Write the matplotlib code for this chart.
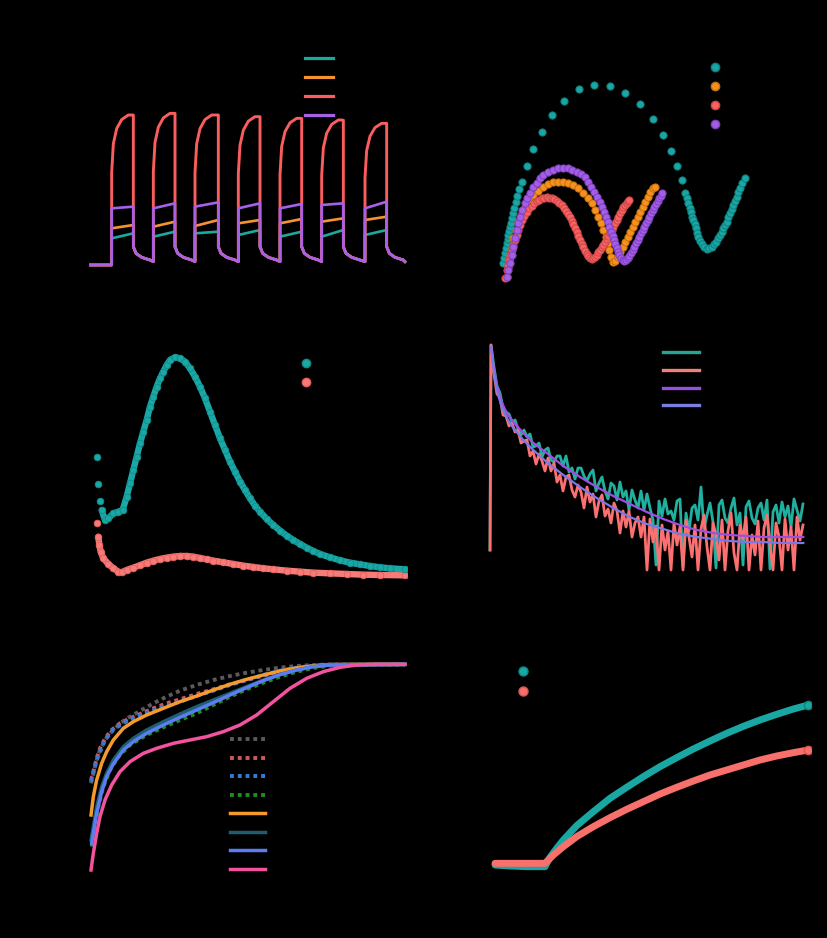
import matplotlib
matplotlib.use("Agg")
import matplotlib.pyplot as plt
from matplotlib.lines import Line2D

W, H = 827, 938

# ---------------- (a) chopped-light current pulses ----------------
PULSE_ON = [65, 190, 315, 445, 570, 695, 825]
PULSE_OFF = [130, 255, 385, 510, 635, 760, 890]
T_END = 945
PRE_J = 5
BASE_J = 15
TAIL_DT = [0, 8, 25, 50]
TAIL_J = [60, 40, 28, 20]
RISE_DT = [0, 5, 15, 30, 50]
RISE_FRAC = [0.62, 0.81, 0.91, 0.97, 1.0]

A_TEAL_START = [85, 90, 100, 95, 90, 90, 95]
A_TEAL_END = [100, 105, 105, 110, 105, 110, 110]
A_ORANGE_START = [115, 120, 122, 130, 130, 135, 140]
A_ORANGE_END = [125, 135, 140, 140, 143, 145, 150]
A_RED_PEAK = [455, 460, 455, 450, 445, 440, 430]
A_PURPLE_START = [175, 175, 180, 175, 175, 185, 175]
A_PURPLE_END = [180, 190, 193, 190, 188, 190, 195]
A_LABELS = ["S1", "S2", "S3", "S4"]

# ---------------- (b) Nyquist plots ----------------
B_TEAL_X = [40, 43, 45, 48, 50, 53, 55, 58, 60, 63, 65, 69, 73, 77, 82, 88, 95, 110, 130, 155,
            187, 223, 268, 312, 359, 406, 449, 489, 520, 543, 560, 575, 585, 590, 595, 599, 603, 607,
            610, 614, 617, 621, 625, 630, 636, 643, 650, 658, 665, 672, 678, 684, 690, 695, 700, 705,
            710, 715, 720, 725, 730, 735, 740, 745, 750, 757, 765]
B_TEAL_Y = [65, 80, 95, 110, 125, 137, 150, 163, 175, 187, 200, 215, 230, 248, 267, 288, 310, 358, 409, 460,
            510, 553, 587, 600, 598, 577, 544, 499, 449, 403, 358, 315, 277, 260, 245, 231, 218, 205,
            195, 182, 170, 157, 145, 133, 122, 113, 109, 110, 115, 122, 130, 140, 150, 160, 170, 180,
            190, 203, 215, 228, 240, 253, 265, 278, 290, 305, 320]
B_ORANGE_X = [50, 55, 60, 65, 70, 78, 85, 95, 105, 117, 130, 145, 160, 175, 190, 205, 220, 235, 250, 265,
              280, 293, 305, 315, 325, 333, 340, 348, 353, 358, 363, 368, 375, 383, 390, 398, 405, 413,
              420, 428, 435, 443, 450, 458, 465, 473, 480, 488, 495]
B_ORANGE_Y = [25, 55, 85, 115, 140, 165, 190, 215, 235, 255, 270, 283, 295, 303, 308, 310, 310, 307, 300, 290,
              277, 262, 245, 225, 205, 185, 165, 145, 125, 105, 85, 70, 72, 85, 100, 115, 130, 145,
              160, 175, 190, 205, 220, 235, 250, 265, 278, 290, 295]
B_RED_X = [45, 50, 53, 57, 61, 65, 70, 75, 80, 85, 91, 97, 103, 110, 117, 125, 132, 140, 147, 155,
           162, 170, 177, 185, 192, 200, 207, 215, 221, 228, 234, 240, 245, 250, 255, 260, 265, 270,
           275, 280, 285, 290, 295, 300, 305, 310, 315, 320, 325, 330, 335, 340, 345, 350, 355, 360,
           365, 370, 375, 380, 385, 390, 395, 400, 405, 410, 414, 418]
B_RED_Y = [20, 45, 60, 75, 90, 105, 120, 135, 150, 165, 180, 195, 208, 220, 230, 238, 245, 252, 256, 260,
           262, 263, 262, 260, 257, 253, 247, 240, 232, 223, 213, 203, 193, 183, 172, 160, 148, 135,
           124, 113, 103, 93, 86, 80, 78, 80, 85, 90, 98, 105, 113, 120, 128, 137, 146, 155,
           165, 175, 185, 195, 205, 215, 224, 233, 240, 247, 251, 255]
B_PURPLE_X = [50, 55, 60, 65, 70, 75, 80, 85, 90, 97, 105, 112, 120, 130, 140, 150, 160, 175, 190, 205,
              220, 234, 247, 260, 272, 284, 295, 304, 313, 322, 330, 337, 343, 348, 353, 358, 363, 368,
              372, 376, 380, 384, 388, 393, 398, 403, 408, 413, 418, 423, 428, 433, 438, 443, 448, 453,
              458, 463, 468, 473, 478, 483, 488, 493, 498, 503, 508, 512, 517]
B_PURPLE_Y = [25, 45, 65, 90, 115, 140, 165, 185, 205, 225, 245, 262, 277, 293, 307, 320, 330, 339, 345, 350,
              352, 350, 345, 340, 333, 323, 310, 295, 280, 265, 250, 235, 220, 205, 190, 175, 160, 147,
              135, 122, 110, 100, 90, 82, 75, 73, 75, 80, 87, 95, 105, 115, 125, 135, 145, 155,
              165, 175, 185, 195, 205, 215, 225, 234, 243, 252, 260, 267, 275]

# ---------------- (c) transient signal ----------------
C_TEAL_X = [28, 31, 36, 41, 51, 61, 76, 91, 104, 116, 126, 136, 146, 156, 166, 176, 186, 196, 206, 216,
            226, 236, 246, 261, 276, 291, 306, 321, 336, 351, 366, 381, 396, 411, 426, 441, 456, 471,
            486, 501, 516, 536, 556, 576, 596, 616, 636, 656, 676, 696, 726, 756, 786, 816, 846, 876,
            906, 951]
C_TEAL_Y = [368, 287, 238, 210, 180, 185, 200, 205, 210, 250, 290, 330, 370, 410, 445, 480, 520, 550, 580, 605,
            625, 645, 660, 668, 665, 655, 635, 610, 580, 545, 505, 465, 425, 390, 355, 325, 295, 270,
            245, 223, 205, 183, 165, 148, 133, 120, 108, 97, 87, 78, 68, 59, 52, 47, 42, 38,
            35, 32]
C_RED_X = [26, 31, 34, 38, 46, 61, 76, 91, 101, 116, 136, 156, 176, 196, 216, 236, 256, 276, 296, 316,
           336, 356, 376, 406, 436, 466, 496, 526, 556, 596, 636, 676, 726, 776, 826, 876, 951]
C_RED_Y = [172, 130, 105, 85, 65, 48, 35, 25, 23, 30, 37, 44, 52, 58, 63, 67, 70, 72, 72, 70,
           66, 62, 58, 53, 48, 43, 39, 35, 32, 28, 25, 22, 20, 18, 16, 15, 14]

# ---------------- (d) PL decay with fits ----------------
D_T = [0, 1] + list(range(4, 316, 3))
D_TEAL = [25, 230,
          208, 189, 182, 167, 163, 161, 153, 155, 146, 140,
          145, 138, 141, 128, 129, 132, 118, 125, 127, 115,
          113, 119, 119, 109, 119, 103, 107, 96, 107, 107,
          99, 94, 101, 105, 84, 92, 98, 84, 76, 92,
          89, 75, 93, 78, 84, 65, 85, 75, 67, 84,
          65, 81, 67, 55, 10, 74, 59, 76, 61, 64,
          55, 74, 76, 8, 62, 44, 67, 70, 55, 88,
          46, 60, 72, 53, 7, 70, 75, 57, 52, 67,
          77, 50, 62, 10, 68, 74, 57, 51, 67, 72,
          55, 75, 6, 63, 70, 52, 73, 58, 69, 48,
          76, 65, 54, 71]
D_RED = [25, 230,
         201, 181, 178, 160, 159, 149, 152, 143, 145, 132,
         134, 135, 119, 124, 111, 121, 114, 104, 117, 104,
         112, 93, 100, 84, 98, 100, 85, 78, 90, 83,
         67, 88, 73, 81, 58, 74, 80, 59, 66, 52,
         72, 64, 42, 64, 48, 64, 38, 52, 58, 38,
         58, 5, 56, 33, 49, 5, 50, 25, 44, 5,
         52, 30, 48, 5, 55, 38, 18, 50, 5, 46,
         60, 28, 5, 52, 40, 15, 55, 5, 44, 62,
         22, 5, 50, 36, 58, 5, 40, 20, 54, 5,
         47, 60, 30, 5, 52, 38, 5, 56, 25, 48,
         5, 58, 35, 50]
D_FIT_T = [1, 3.3, 6.7, 11.7, 16.7, 23.3, 33.3, 43.3, 56.7, 73.3, 90, 106.7, 123.3, 140, 156.7,
           173.3, 190, 206.7, 223.3, 240, 256.7, 273.3, 290, 313.3]
D_FIT_PURPLE = [228, 210, 190, 173, 162, 153, 142, 132, 122, 109, 98, 88, 79, 71, 63,
                56, 50, 45, 42, 40, 39, 38, 38, 38]
D_FIT_BLUE = [228, 207, 185, 168, 157, 147, 135, 125, 113, 100, 88, 77, 67, 58, 51,
              46, 41, 38, 36, 34, 33, 33, 32, 32]

# ---------------- (e) cumulative curves ----------------
E_GRAY_X = [9, 16, 26, 36, 51, 71, 96, 126, 161, 196, 236, 276, 326, 376, 426, 476, 526, 576, 626, 676, 726, 951]
E_GRAY_Y = [275, 305, 345, 375, 405, 430, 455, 475, 495, 515, 535, 553, 570, 585, 597, 607, 615, 622, 627, 630, 632, 632]
E_RED_X = E_GRAY_X
E_RED_Y = [285, 310, 350, 380, 410, 435, 455, 470, 485, 500, 515, 527, 543, 557, 572, 585, 598, 610, 620, 627, 631, 632]
E_BLUED_X = [9, 26, 51, 76, 126, 176, 226, 276, 326, 376, 426, 476, 526, 576, 626, 676, 726, 951]
E_BLUED_Y = [280, 345, 405, 437, 467, 487, 505, 520, 537, 553, 570, 585, 600, 613, 622, 628, 631, 631]
E_GREEN_X = [11, 21, 31, 46, 66, 91, 126, 176, 226, 276, 326, 376, 426, 476, 526, 576, 626, 676, 726, 776, 951]
E_GREEN_Y = [85, 145, 205, 265, 315, 355, 390, 420, 443, 465, 485, 510, 535, 557, 577, 595, 610, 621, 628, 631, 632]
E_ORANGE_X = [9, 16, 26, 41, 56, 76, 106, 136, 176, 226, 276, 326, 376, 426, 476, 526, 576, 626, 676, 726, 951]
E_ORANGE_Y = [180, 235, 285, 335, 370, 405, 440, 460, 480, 500, 520, 537, 555, 572, 587, 600, 612, 621, 627, 631, 632]
E_DTEAL_X = E_ORANGE_X
E_DTEAL_Y = [105, 145, 205, 265, 305, 345, 385, 410, 435, 460, 483, 505, 525, 545, 565, 585, 602, 615, 625, 630, 632]
E_BLUE_X = [11, 16, 26, 41, 56, 76, 106, 136, 176, 226, 276, 326, 376, 426, 476, 526, 576, 626, 676, 726, 951]
E_BLUE_Y = [95, 125, 185, 250, 295, 333, 375, 400, 425, 450, 473, 495, 517, 540, 562, 583, 601, 615, 625, 630, 632]
E_PINK_X = [9, 16, 26, 36, 51, 71, 96, 126, 166, 206, 256, 306, 356, 406, 456, 506, 556, 606, 656, 706, 756, 806, 856, 951]
E_PINK_Y = [15, 65, 125, 175, 225, 270, 310, 340, 365, 380, 395, 405, 415, 430, 450, 480, 520, 560, 590, 610, 623, 630, 632, 632]
E_LABELS = ["D1", "D2", "D3", "D4", "F1", "F2", "F3", "F4"]

# ---------------- (f) J-V like sweep ----------------
F_TEAL_X = [15, 60, 110, 165, 180, 200, 220, 260, 310, 360, 410, 460, 510, 560, 610, 660, 710, 760, 810, 860, 910, 955]
F_TEAL_Y = [30, 27, 25, 25, 53, 80, 105, 148, 190, 230, 263, 295, 325, 352, 378, 402, 425, 446, 465, 482, 498, 510]
F_RED_X = [15, 60, 110, 165, 190, 220, 260, 310, 360, 410, 460, 510, 560, 610, 660, 710, 760, 810, 860, 910, 955]
F_RED_Y = [35, 35, 35, 35, 60, 85, 115, 145, 172, 197, 220, 243, 263, 282, 300, 315, 330, 345, 357, 367, 375]

fig = plt.figure(figsize=(W / 100, H / 100), dpi=100, facecolor="black")


def panel(x0, y0, x1, y1, xlim, ylim):
    ax = fig.add_axes([x0 / W, 1 - y1 / H, (x1 - x0) / W, (y1 - y0) / H])
    ax.set_facecolor("black")
    for s in ax.spines.values():
        s.set_color("black")
    ax.tick_params(colors="black", labelcolor="black")
    ax.set_xlim(*xlim)
    ax.set_ylim(*ylim)
    return ax


def legend_at(ax, handles, labels, x, y, spacing=0.45, hl=2.0):
    ax.legend(handles, labels, loc="upper left", bbox_to_anchor=(x / W, 1 - (y - 5.5) / H),
              bbox_transform=fig.transFigure, frameon=False, borderpad=0, borderaxespad=0,
              fontsize=9, labelcolor="black", labelspacing=spacing, handlelength=hl,
              numpoints=1, handletextpad=0.6)


def pulse_trace(start, end, rise=False):
    t = [0, PULSE_ON[0]]
    j = [PRE_J, PRE_J]
    for k, (ton, toff) in enumerate(zip(PULSE_ON, PULSE_OFF)):
        if rise:
            t += [ton + dt for dt in RISE_DT] + [toff]
            j += [end[k] * f for f in RISE_FRAC] + [end[k]]
        else:
            t += [ton, toff]
            j += [start[k], end[k]]
        nxt = PULSE_ON[k + 1] if k + 1 < len(PULSE_ON) else T_END
        t += [toff + dt for dt in TAIL_DT] + [nxt]
        j += TAIL_J + [BASE_J]
    return t, j


# (a)
ax = panel(88, 40, 408, 280, (-6, 954), (-40, 680))
a_cols = ["#1ba89e", "#f3942f", "#fa5d5d", "#a760e8"]
for st, en, rise, c, lw in [(A_TEAL_START, A_TEAL_END, False, a_cols[0], 1.9),
                            (A_ORANGE_START, A_ORANGE_END, False, a_cols[1], 1.9),
                            (A_RED_PEAK, A_RED_PEAK, True, a_cols[2], 2.1),
                            (A_PURPLE_START, A_PURPLE_END, False, a_cols[3], 1.9)]:
    t, j = pulse_trace(st, en, rise)
    ax.plot(t, j, color=c, lw=lw, solid_joinstyle="round")
legend_at(ax, [Line2D([], [], color=c, lw=2.3) for c in a_cols], A_LABELS, 305, 57.7, 0.48, 2.25)

# (b)
ax = panel(488, 40, 765, 285, (-6, 825), (0, 735))
b_cols = [("#1aa6a4", "#0e7f7d"), ("#f5921e", "#c96f0c"), ("#f86262", "#c94545"), ("#a45ee6", "#7d3fbf")]
b_data = [(B_TEAL_X, B_TEAL_Y), (B_ORANGE_X, B_ORANGE_Y), (B_RED_X, B_RED_Y), (B_PURPLE_X, B_PURPLE_Y)]
for (x, y), (fc, ec) in zip(b_data, b_cols):
    ax.plot(x, y, "o", ms=5.2, mfc=fc, mec=ec, mew=0.7)
legend_at(ax, [Line2D([], [], ls="", marker="o", ms=6, mfc=fc, mec=ec) for fc, ec in b_cols],
          A_LABELS, 715 - 6.25, 66.7, 0.49, 1.0)

# (c)
ax = panel(88, 340, 408, 580, (0, 960), (0, 720))
ax.plot(C_RED_X[1:], C_RED_Y[1:], color="#f87b78", lw=4.6, solid_capstyle="round")
ax.plot(C_RED_X, C_RED_Y, "o", ms=4.8, mfc="#f87b78", mec="#e06260", mew=0.6)
ax.plot(C_TEAL_X[3:], C_TEAL_Y[3:], color="#1aa8a6", lw=4.6, solid_capstyle="round")
ax.plot(C_TEAL_X, C_TEAL_Y, "o", ms=4.8, mfc="#1aa8a6", mec="#118a88", mew=0.6)
legend_at(ax, [Line2D([], [], ls="", marker="o", ms=6, mfc="#1aa8a6", mec="#118a88"),
               Line2D([], [], ls="", marker="o", ms=6, mfc="#f87b78", mec="#e06260")],
          ["S1", "S2"], 305.7 - 6.25, 362.7, 0.48, 1.0)

# (d)
ax = panel(485, 338, 808, 575, (-5, 318), (0, 237))
ax.plot(D_T, D_TEAL, color="#1fb0a0", lw=2.0)
ax.plot(D_T, D_RED, color="#fb7070", lw=2.0)
ax.plot(D_FIT_T, D_FIT_PURPLE, color="#a04ee0", lw=1.6)
ax.plot(D_FIT_T, D_FIT_BLUE, color="#7878e8", lw=1.6)
d_cols = ["#23a693", "#f0807a", "#9450e0", "#7b7fe0"]
legend_at(ax, [Line2D([], [], color=c, lw=2.4) for c in d_cols], ["S1", "S2", "fit S1", "fit S2"],
          663, 352, 0.38, 2.9)

# (e)
ax = panel(88, 650, 408, 875, (0, 960), (0, 675))
dot = (0, (1, 1))
e_series = [(E_GRAY_X, E_GRAY_Y, "#5a5a5a", dot), (E_RED_X, E_RED_Y, "#c95b5b", dot),
            (E_BLUED_X, E_BLUED_Y, "#3878d8", dot), (E_GREEN_X, E_GREEN_Y, "#1e8c1e", dot),
            (E_ORANGE_X, E_ORANGE_Y, "#f59b2e", "-"), (E_DTEAL_X, E_DTEAL_Y, "#1d5f70", "-"),
            (E_BLUE_X, E_BLUE_Y, "#5b7cf2", "-"), (E_PINK_X, E_PINK_Y, "#f2529e", "-")]
handles = []
for x, y, c, ls in e_series:
    lw = 2.8 if ls == dot else 2.5
    ax.plot(x, y, color=c, ls=ls, lw=lw)
    handles.append(Line2D([], [], color=c, ls=ls, lw=lw))
legend_at(ax, handles, E_LABELS, 230, 739, 0.44, 2.8)

# (f)
ax = panel(490, 650, 812, 875, (0, 966), (0, 675))
ax.plot(F_TEAL_X, F_TEAL_Y, color="#19a7a3", lw=5, solid_capstyle="round")
ax.plot(F_TEAL_X[-1:], F_TEAL_Y[-1:], "o", ms=6, mfc="#19a7a3", mec="#0f8581")
ax.plot(F_RED_X, F_RED_Y, color="#f8706c", lw=5, solid_capstyle="round")
ax.plot(F_RED_X[-1:], F_RED_Y[-1:], "o", ms=6, mfc="#f8706c", mec="#d85450")
legend_at(ax, [Line2D([], [], ls="", marker="o", ms=6.5, mfc="#19a7a3", mec="#0f8581"),
               Line2D([], [], ls="", marker="o", ms=6.5, mfc="#f8706c", mec="#d85450")],
          ["S1", "S2"], 522.7 - 6.25, 671, 0.53, 1.0)

fig.savefig("out.png", dpi=100, facecolor="black")
